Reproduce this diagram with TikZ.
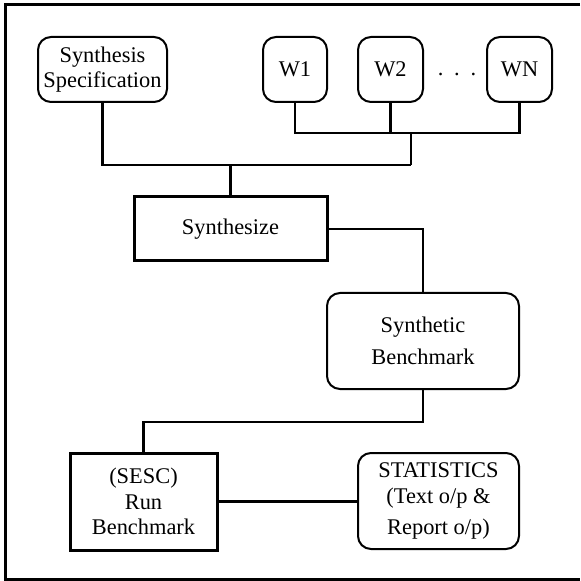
\documentclass[tikz,border=0pt]{standalone}
\usepackage{fontspec}
\setmainfont{Liberation Serif}
\usetikzlibrary{calc}

\begin{document}
\begin{tikzpicture}[x=0.5pt, y=-0.5pt,
  every node/.style={font=\fontsize{11.2}{12.8}\selectfont, align=center, inner sep=1pt},
  roundbox/.style={rectangle, rounded corners=6.5pt, draw, line width=1pt},
  squarebox/.style={rectangle, draw, line width=1.5pt},
  link/.style={line width=1.2pt}]
\useasboundingbox (0,0) rectangle (580,581);

% outer frame
\draw[line width=1.5pt] (580,5) -- (5,5) -- (5,579) -- (580,579);

% inputs
\node[roundbox, minimum width=64.5pt, minimum height=32.5pt] (spec) at (102.5,69.5) {Synthesis\\Specification};
\node[roundbox, minimum width=32pt, minimum height=32.5pt] (w1) at (295,69.5) {W1};
\node[roundbox, minimum width=32.5pt, minimum height=32.5pt] (w2) at (390.5,69.5) {W2};
\node[roundbox, minimum width=32.5pt, minimum height=32.5pt] (wn) at (519.5,69.5) {WN};
\node[anchor=base] (dots) at (457,76) {.\hspace{5.4pt}.\hspace{5.4pt}.};

% flow
\node[squarebox, minimum width=96.5pt, minimum height=32pt] (synth) at (230.5,229) {Synthesize};
\node[roundbox, minimum width=96pt, minimum height=48pt] (bench) at (423,341) {Synthetic\\[3.2pt]Benchmark};
\node[squarebox, minimum width=73.5pt, minimum height=48.5pt] (run) at (143.5,501.5) {(SESC)\\Run\\Benchmark};
\node[roundbox, minimum width=80.5pt, minimum height=48pt] (stats) at (438.5,501) {STATISTICS\\(Text o/p \&\\[3pt]Report o/p)};

% connectors
\coordinate (wbus) at (411,133);
\coordinate (sbus) at (411,165);
\draw[link] (w1.south) |- (wbus);
\draw[link] (wn.south) |- (wbus);
\draw[link] (w2.south) -- (w2.south |- wbus);
\draw[link] (wbus) -- (sbus);
\draw[link] (spec.south) |- (sbus);
\draw[link] (synth.north) -- (synth.north |- sbus);
\draw[link] (synth.east) -| (bench.north);
\draw[link] (bench.south) -- ++(0,32) -| (run.north);
\draw[link] (run.east) -- (run.east -| stats.west);
\end{tikzpicture}
\end{document}
